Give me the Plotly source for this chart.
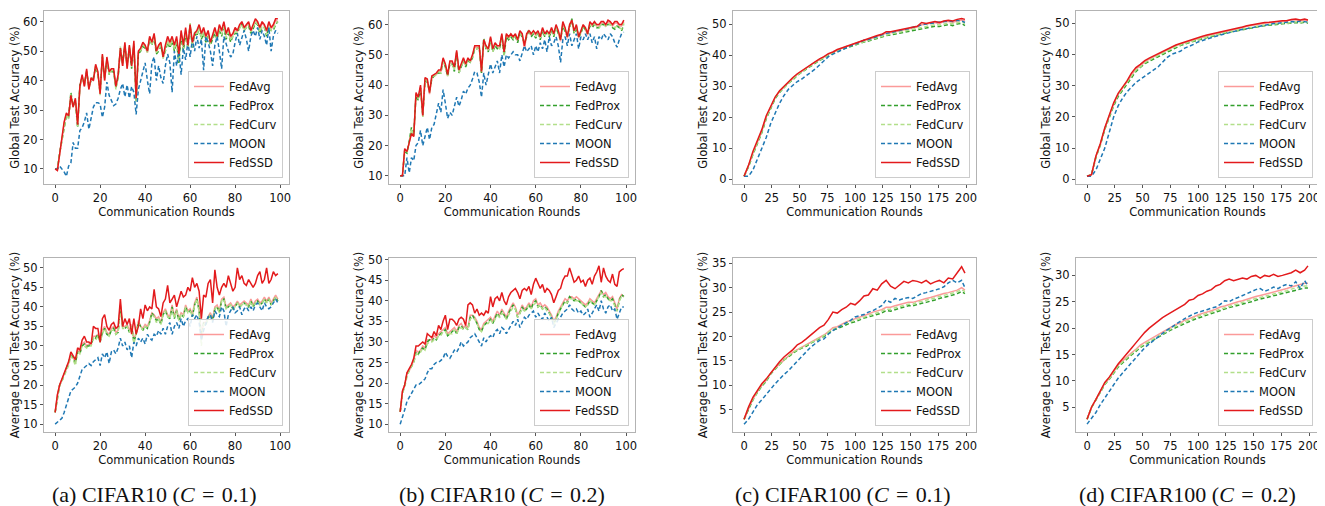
import plotly.graph_objects as go

# ---------------- data ----------------
rounds_c10 = list(range(100))
rounds_c100 = list(range(0, 197, 4)) + [199]
methods = ["FedAvg", "FedProx", "FedCurv", "MOON", "FedSSD"]

# (a) CIFAR10 C=0.1, global
a_g_avg = [10, 9.5, 15, 20, 25.5, 28.5, 28, 34.5, 31, 33.5, 25, 37.5, 41.5, 38, 43.5, 37, 40.5, 40, 45, 42.5,
           35.5, 48.5, 40, 47.5, 42.5, 43.5, 43.5, 38, 41.5, 50.5, 45, 52.5, 44, 51.5, 45, 52.5, 34, 49.5, 50.5, 52.5,
           51.5, 49.5, 54.5, 52.5, 55.5, 49.5, 51.5, 52.5, 47.5, 51.5, 54, 52.5, 54.5, 51, 54, 48, 56, 51, 57, 51.5,
           58.5, 52.5, 55.5, 56.5, 58.5, 55.5, 57.5, 54.5, 56.5, 52.5, 55.5, 57.5, 54.5, 58.5, 56.5, 59.5, 55.5, 57.5, 54.5, 55.5,
           57.5, 56.5, 58.5, 59.5, 57.5, 58.5, 59.5, 56.5, 58.5, 60.5, 59.5, 57.5, 59.5, 58.5, 56.5, 59.5, 57.5, 58.5, 60.5, 60]
a_g_prox = [10, 10, 15.5, 20, 25, 28, 27.5, 36, 31.5, 33, 24, 38.5, 41, 39, 43, 38, 40, 41, 44.5, 42,
            36, 48, 41, 47, 42, 43, 43, 37.5, 41, 51, 46, 52, 45, 51, 44, 52, 33, 49, 50, 51.5,
            51, 50, 54, 52, 55, 49, 50, 52, 48, 50, 53, 51, 53.5, 50, 53, 46, 55, 50, 56, 51,
            59, 51, 56, 55, 58, 54, 56, 53, 55, 52, 54, 56, 54, 57, 55, 58, 54, 56, 53, 55,
            56, 56, 58, 59, 57, 58, 58.5, 56, 57.5, 59.5, 59, 56, 58, 58, 55, 58, 57, 57, 59, 60]
a_g_curv = [10, 10, 15, 19.5, 25, 28.5, 27, 35.5, 31, 33, 24.5, 38, 41, 38.5, 43, 37.5, 40.5, 40.5, 45, 42.5,
            35, 48.5, 40.5, 47.5, 42, 43.5, 43, 37, 41.5, 51.5, 45.5, 52, 44.5, 51.5, 44.5, 52.5, 33, 49.5, 50, 52,
            51.5, 49.5, 54.5, 52, 55.5, 49.5, 50.5, 52.5, 47.5, 50.5, 53.5, 51.5, 54, 50.5, 53.5, 47, 55.5, 50.5, 56.5, 51,
            59.5, 51.5, 56.5, 55.5, 58, 54.5, 56.5, 53.5, 55.5, 52.5, 54.5, 56.5, 54, 57.5, 55.5, 58.5, 54.5, 56.5, 53.5, 55,
            56.5, 56.5, 58, 59, 57, 58, 59, 56.5, 58, 60, 59, 56.5, 58.5, 58, 55.5, 58.5, 57, 57.5, 59.5, 60]
a_g_moon = [10, 10, 11, 10, 9, 7.5, 11, 12, 19, 17, 17, 23, 24, 26, 29, 23.5, 28, 31, 32.5, 32.5,
            32, 27.5, 31, 39.5, 35, 33, 31.5, 32, 34, 37, 39, 34.5, 38.5, 34, 38, 36, 28.5, 37, 40, 44,
            46, 40, 35.5, 46, 48, 40, 45, 41, 39, 45, 49, 46, 36, 50, 45, 50, 42, 51, 47, 53,
            48, 54, 50, 55, 51, 54, 43.5, 55, 53, 50, 45, 52, 55, 50, 44, 55, 52, 50, 48, 49,
            53, 56, 52, 55, 57, 54, 50, 55, 57, 55, 58, 54, 57, 55, 52, 58, 50, 55, 57, 56]
a_g_ssd = [10, 9.5, 15, 20, 26, 29, 28, 35, 31, 34, 25, 38, 42, 38, 44, 37, 41, 40, 45.5, 43,
           35.5, 49, 40, 48, 43, 44, 44, 38, 42, 51, 45, 53, 44, 52, 45, 53.5, 34, 50, 51, 53,
           52, 50, 55, 53, 56, 50, 52, 53, 48, 52, 55, 53, 55, 52, 55, 49, 57, 52, 58, 52,
           59, 53, 56, 57, 59, 56, 58, 55, 57, 53, 56, 58, 55, 59, 57, 60, 56, 58, 55, 56,
           58, 57, 59, 60, 58, 59, 60, 57, 59, 61, 60, 58, 60, 59, 57, 60, 58, 59, 61, 61]

# (b) CIFAR10 C=0.2, global
b_g_avg = [10, 10, 18.5, 18, 21, 24.5, 23, 37, 35.5, 39.5, 29.5, 42, 41.5, 37, 42.5, 43, 43.5, 44.5, 44.5, 48.5,
           46.5, 43, 47.5, 47.5, 45.5, 51, 44.5, 46.5, 48.5, 46.5, 48.5, 47.5, 49.5, 52.5, 52.5, 52.5, 44, 54.5, 52.5, 51.5,
           55.5, 51.5, 53.5, 52.5, 52.5, 56.5, 50.5, 56.5, 55.5, 56.5, 55.5, 56.5, 54.5, 57.5, 56.5, 52, 56.5, 57.5, 56.5, 57.5,
           56.5, 57.5, 55.5, 58.5, 56.5, 57.5, 56.5, 58.5, 56.5, 59.5, 57.5, 54.5, 60.5, 58.5, 55.5, 59.5, 61, 57.5, 59.5, 55.5,
           57.5, 59.5, 58.5, 56.5, 60.5, 59.5, 60.5, 59.5, 59.5, 60.5, 60.5, 59.5, 61, 60.5, 59.5, 60.5, 60.5, 59.5, 59.5, 61]
b_g_prox = [10, 10, 18, 17.5, 21.5, 26, 23.5, 36.5, 35, 39, 30, 41.5, 41, 38, 42, 43, 43.5, 44, 44, 48,
            46, 43, 47, 47, 44.5, 50.5, 44, 46, 48, 46, 48, 47.5, 49, 52, 52, 52.5, 44, 55.5, 52, 51,
            55, 51, 53, 52, 52, 56, 49.5, 56, 55, 56, 55, 56, 54, 57.5, 56, 54, 56, 58.5, 56, 57,
            55.5, 57, 55, 58, 56, 57.5, 56, 58, 56, 59, 57, 55, 59.5, 58, 56, 59, 62, 57, 59, 56,
            57, 59.5, 58, 57, 59.5, 59, 60, 59, 59, 60, 60, 59.5, 60, 60, 59, 58.5, 59.5, 59, 58, 60]
b_g_curv = [10, 10, 18.5, 17.5, 21, 25.5, 23, 37, 35.5, 39, 29.5, 42, 41, 37.5, 42.5, 43, 43.5, 44.5, 44, 48.5,
            46, 43, 47.5, 47, 45, 51, 44, 46.5, 48, 46.5, 48.5, 47.5, 49.5, 52.5, 52, 52.5, 44.5, 55, 52.5, 51.5,
            55.5, 51, 53.5, 52.5, 52, 56.5, 50, 56.5, 55.5, 56.5, 55.5, 56.5, 54.5, 57, 56.5, 53.5, 56.5, 58, 56.5, 57.5,
            56, 57.5, 55.5, 58.5, 56.5, 57.5, 56.5, 58.5, 56.5, 59.5, 57.5, 55, 60, 58.5, 56, 59.5, 61.5, 57.5, 59.5, 56,
            57.5, 59.5, 58.5, 57, 60, 59.5, 60, 59.5, 59, 60, 60, 59.5, 60.5, 60, 59.5, 59, 59.5, 59, 58.5, 60.5]
b_g_moon = [10, 10, 10, 16, 11, 16, 15, 20, 21, 25, 20, 23, 26, 22, 26, 27, 30, 34, 31, 38.5,
            34, 29, 31, 30, 33, 36, 33, 35, 38, 37, 39, 40, 42, 44.5, 44, 41, 36, 44, 40, 44,
            47, 44, 46, 48, 44, 50, 46, 50, 49, 50, 51, 50, 50, 48, 51, 53, 51, 52, 53, 50,
            53, 51, 54, 52, 55, 51, 56, 53, 54, 56, 53, 47.5, 55, 56, 53, 57, 53, 55, 57, 52,
            56, 55, 57, 55, 57, 54, 56, 52, 56, 55, 57, 56, 55, 57, 56, 54, 52.5, 55, 57, 57.5]
b_g_ssd = [10, 10, 19, 18, 21, 24, 23, 37.5, 36, 40, 30, 42.5, 42, 37.5, 43, 43.5, 44, 45, 45, 49,
           47, 43.5, 48, 48, 46, 51.5, 45, 47, 49, 47, 49, 48, 50, 53, 53, 53, 44.5, 55, 53, 52,
           56, 52, 54, 53, 53, 57, 51, 57, 56, 57, 56, 57, 55, 58, 57, 53, 57, 58, 57, 58,
           57, 58, 56, 59, 57, 58, 57, 59, 57, 60, 58, 55, 61, 59, 56, 60, 61.5, 58, 60, 56,
           58, 60, 59, 57, 61, 60, 61, 60, 60, 61, 61, 60, 61.5, 61, 60, 61, 61, 60, 60, 61.5]

# (c) CIFAR100 C=0.1, global
c_g_avg = [1, 4.3, 8.5, 12, 15.5, 20, 23.3, 26.3, 28.3, 29.8, 31.3, 32.5, 33.8, 34.8, 36, 36.8, 37.8, 38.5, 39.3, 40.3,
           40.8, 41.5, 42, 42.8, 43.2, 43.8, 44.3, 44.8, 45, 45.5, 46, 46.5, 47, 47.2, 47.5, 47.8, 48.2, 48.5, 48.8, 49,
           49.8, 50, 50.2, 50.5, 50.2, 50.8, 50.8, 50.6, 51, 51.3, 51]
c_g_prox = [1, 4, 8, 11.5, 15, 19.5, 23, 26, 28, 29.5, 31, 32, 33.5, 34.5, 35.5, 36.5, 37.5, 38.3, 39, 40,
            40.5, 41.2, 41.8, 42.3, 42.8, 43.3, 43.8, 44.2, 44.5, 45, 45.3, 45.8, 46.3, 46.5, 46.8, 47, 47.3, 47.5, 48, 48.2,
            48.5, 48.8, 49, 49.3, 49.2, 49.5, 49.8, 49.5, 50, 50.2, 49.5]
c_g_curv = [1, 4.2, 8.3, 11.8, 15.3, 19.8, 23, 26.2, 28.2, 29.6, 31.2, 32.3, 33.6, 34.6, 35.8, 36.6, 37.6, 38.4, 39.2, 40.1,
            40.6, 41.3, 41.9, 42.5, 43, 43.5, 44, 44.5, 44.8, 45.2, 45.6, 46, 46.6, 46.8, 47.1, 47.4, 47.7, 48, 48.3, 48.6,
            49, 49.3, 49.5, 49.8, 49.7, 50, 50.3, 50.1, 50.5, 50.7, 50.2]
c_g_moon = [1, 1, 3, 6.5, 10, 13.5, 18, 21.5, 24.5, 27, 29, 30.3, 31.5, 32.3, 33.3, 34.3, 35.5, 36.8, 38.3, 39.5,
            40.3, 41, 41.8, 42.5, 43, 43.5, 44.2, 44.8, 45, 45.5, 46, 46.5, 47, 47.2, 47.6, 48, 48.3, 48.5, 49, 49.2,
            49.8, 50, 50.2, 50.5, 50.5, 50.8, 51, 50.8, 51.2, 51, 50.5]
c_g_ssd = [1, 4.5, 9, 12.5, 16, 20.5, 23.5, 26.5, 28.5, 30, 31.5, 32.8, 34, 35, 36, 37, 38, 38.8, 39.5, 40.5,
           41, 41.8, 42.3, 42.8, 43.5, 44, 44.5, 45, 45.3, 45.8, 46.3, 46.7, 47.5, 47.5, 47.8, 48, 48.5, 48.8, 49, 49.3,
           50.5, 50.2, 50.5, 50.8, 50.5, 51, 51.2, 51, 51.5, 51.8, 51.5]

# (d) CIFAR100 C=0.2, global
d_g_avg = [1, 1.5, 7.3, 11.3, 16.3, 20.2, 24.2, 27.2, 29.2, 31.2, 33.6, 35.3, 36.3, 37.6, 38.5, 39.2, 40, 40.8, 41.5, 42,
           42.8, 43.3, 43.8, 44.3, 44.7, 45, 45.5, 46, 46.3, 46.6, 47, 47.3, 47.6, 47.9, 48.3, 48.6, 49, 49.3, 49.5, 49.8,
           50, 50.1, 50.3, 50.4, 50.6, 50.7, 51, 51, 50.8, 51, 50.8]
d_g_prox = [1, 1.5, 7, 11, 16, 19.8, 23.5, 26.5, 28.5, 30.5, 32.8, 34.5, 35.8, 37, 37.8, 38.5, 39.3, 40, 40.8, 41.5,
            42.2, 42.8, 43.3, 43.8, 44.2, 44.6, 45, 45.4, 45.8, 46.1, 46.5, 46.8, 47.1, 47.4, 47.7, 48, 48.3, 48.6, 48.8, 49,
            49.2, 49.4, 49.5, 49.6, 49.8, 49.9, 50, 50.2, 50, 50.3, 50]
d_g_curv = [1, 1.5, 7.2, 11.2, 16.2, 20, 24, 27, 29, 31, 33.2, 35, 36, 37.3, 38.2, 38.9, 39.7, 40.4, 41.2, 41.8,
            42.5, 43, 43.5, 44, 44.4, 44.8, 45.2, 45.6, 46, 46.3, 46.7, 47, 47.3, 47.6, 47.9, 48.2, 48.5, 48.8, 49, 49.2,
            49.4, 49.6, 49.7, 49.8, 50, 50, 50.2, 50.4, 50.2, 50.5, 50.2]
d_g_moon = [1, 1, 3, 6.5, 10, 15, 20, 23.5, 26, 28, 29.5, 31, 32, 33, 34, 35, 36, 37.5, 39, 40,
            40.5, 41, 42, 42.5, 43.2, 44, 44.5, 45, 45.4, 45.8, 46.2, 46.5, 47, 47.3, 47.7, 48, 48.3, 48.6, 48.9, 49.2,
            49.5, 49.7, 49.9, 50, 50.2, 50.3, 50.5, 50.4, 50.7, 50.5, 50.3]
d_g_ssd = [1, 1.5, 7.5, 11.5, 16.5, 20.5, 24.5, 27.5, 29.5, 31.5, 34, 35.8, 36.8, 38, 38.8, 39.5, 40.3, 41, 41.8, 42.3,
           43, 43.5, 44, 44.5, 45, 45.3, 45.8, 46.2, 46.5, 46.8, 47.2, 47.5, 47.8, 48, 48.5, 48.8, 49.2, 49.5, 49.8, 50,
           50.2, 50.3, 50.5, 50.5, 50.8, 50.8, 51.2, 51.3, 51, 51.3, 51]

# (a) CIFAR10 C=0.1, local
a_l_avg = [13, 17.5, 20, 21.5, 23, 24, 25.5, 28, 27, 26, 29, 28.5, 30.5, 31, 30, 30.5, 30.5, 32.5, 32.5, 33,
           31, 34, 35, 33.5, 33, 34.5, 35, 33.5, 34, 40.5, 35, 35, 35.5, 34, 35.5, 31.5, 33.5, 36.5, 35, 34.5,
           35.5, 35, 36.5, 38.5, 38, 37, 37.5, 36, 38.5, 39.5, 38, 37.5, 40.5, 37.5, 39.5, 37, 38.5, 38, 40.5, 39,
           39.5, 38, 41, 42.5, 39.5, 32.5, 36, 36, 37.5, 38.5, 37, 40, 40.5, 39, 42, 42.5, 40, 40.5, 41, 40,
           40.5, 41.5, 40.5, 41, 41.5, 41, 40.5, 42, 40.5, 41.5, 42, 41, 41.5, 42.5, 41.5, 42.5, 41, 42, 43, 42]
a_l_prox = [13, 17, 20, 21, 22.5, 24, 25.5, 27.5, 27, 25.5, 28.5, 28, 30, 30.5, 30, 30, 30.5, 32, 32, 33,
            31, 33.5, 34.5, 33, 32.5, 34, 34.5, 33, 33.5, 40, 35, 34.5, 35, 33.5, 35, 31, 33, 36, 35, 34,
            35, 34.5, 36, 38.5, 37.5, 36.5, 37, 35.5, 38, 39, 37.5, 37, 40, 37, 39, 36.5, 38, 37.5, 40, 38.5,
            39, 37.5, 40.5, 42, 39, 32, 36, 35.5, 37, 38, 36.5, 39.5, 40, 38.5, 41.5, 42, 39.5, 40, 40.5, 39.5,
            40, 41, 40, 40.5, 41, 40.5, 40, 41.5, 40, 41, 41.5, 40.5, 41, 42, 41, 42, 40.5, 41.5, 42.5, 41.5]
a_l_curv = [13, 17, 20, 21, 22.5, 23.5, 25, 27.5, 26.5, 25, 28.5, 28, 30, 30, 29.5, 30, 30, 32, 31.5, 32.5,
            31, 33, 34.5, 33, 32.5, 34, 34, 33, 33.5, 39.5, 34.5, 34.5, 35, 33.5, 35, 30.5, 33, 36, 35, 34,
            35, 34.5, 36, 38, 37.5, 36, 37, 35.5, 38, 39, 37.5, 37, 39.5, 37, 39, 36.5, 38, 37.5, 40, 38.5,
            39, 37.5, 40.5, 42, 39, 30, 35.5, 35.5, 37, 38, 36.5, 39.5, 40, 38.5, 41.5, 42, 39.5, 40, 40.5, 39.5,
            40, 41, 40, 40.5, 41, 40.5, 40, 41.5, 40, 41, 41.5, 40.5, 41, 42, 41, 42, 40.5, 41.5, 42.5, 41.5]
a_l_moon = [10, 10.5, 11, 11.5, 13, 15, 17, 18.5, 19, 19.5, 20.5, 22, 24, 24.5, 25, 25.5, 25, 26, 26.5, 27,
            25, 28, 27, 28.5, 25.5, 28.5, 29, 28, 29.5, 32, 30, 31, 29, 30, 27, 31, 30, 32, 31, 32,
            30.5, 33, 32, 31.5, 33, 32.5, 34, 33, 34.5, 33, 35, 36, 33, 35, 36, 34.5, 37, 35, 36.5, 37,
            35, 38, 37, 38, 36, 31.5, 34, 36, 37.5, 38, 36, 39, 38, 37.5, 40, 39, 35, 38, 39, 40,
            38.5, 39, 40, 38, 39.5, 40, 39, 40, 39, 40.5, 41, 40, 39, 41, 40, 39.5, 40, 41, 42, 41]
a_l_ssd = [13, 17.5, 20, 21.5, 23, 24, 26, 28.5, 27.5, 26.5, 29.5, 29, 31.5, 32.5, 31, 31, 30.5, 35, 34.5, 34.5,
           31, 37, 38, 35, 34, 35.5, 36, 34.5, 35, 42, 35, 37, 35.5, 37, 33, 37, 33, 35, 39.5, 37,
           40.5, 39, 40, 39.5, 44.5, 40, 39.5, 37.5, 41, 42, 45.5, 41, 42, 43, 40, 42, 44, 42.5, 43, 45,
           44, 47.5, 45, 46, 44, 37, 43, 42.5, 46, 47, 41, 49.5, 45, 43, 45, 46, 45, 48, 46, 44,
           45, 50, 47, 48, 46, 45.5, 47, 46, 45, 46, 48, 49, 46, 47, 50, 46, 47, 49, 48, 48.5]

# (b) CIFAR10 C=0.2, local
b_l_avg = [13, 18, 19.5, 22.5, 23, 24.5, 25.5, 28, 27.5, 28, 29, 28.5, 30.5, 30.5, 30.5, 31.5, 31, 32, 32.5, 33,
           33.5, 32, 32.5, 33, 33.5, 32.5, 34, 34.5, 33.5, 34, 33.5, 36.5, 36.5, 36, 35, 33.5, 33, 34.5, 35, 35.5,
           36, 35, 36.5, 37.5, 36.5, 38, 37, 36, 37.5, 38.5, 39.5, 38.5, 36.5, 37.5, 39, 38, 38.5, 39.5, 38.5, 40,
           40.5, 39, 39.5, 38.5, 39, 38.5, 37.5, 36.5, 35, 36, 37.5, 38.5, 39.5, 40.5, 40, 41, 41, 40.5, 41, 40.5,
           40, 39.5, 39, 39.5, 40.5, 40, 39.5, 40.5, 41.5, 42.5, 41.5, 42, 41, 40.5, 41, 39.5, 38, 40.5, 41.5, 41]
b_l_prox = [13, 17.5, 19.5, 22, 23, 24, 25, 27.5, 27, 28, 28.5, 28, 30, 30.5, 30, 31, 30.5, 31.5, 32, 32.5,
            33, 31.5, 32, 32.5, 33, 32, 33.5, 34, 33, 33.5, 33, 36, 36.5, 35.5, 34.5, 33, 32.5, 34, 34.5, 35,
            35.5, 34.5, 36, 37, 36, 37.5, 36.5, 35.5, 37, 38, 39, 38, 36, 37, 38.5, 37.5, 38, 39, 38, 39.5,
            40, 38.5, 39, 38, 38.5, 38, 37, 36, 34.5, 35.5, 37, 38, 39, 40, 39.5, 41, 40.5, 40, 40.5, 40,
            39.5, 39, 38.5, 39, 40, 39.5, 39, 40, 41, 42.5, 41, 41.5, 40.5, 40, 40.5, 39, 37.5, 40, 41.5, 41]
b_l_curv = [13, 17.5, 19, 21.5, 23, 24, 25, 27, 27, 27.5, 28.5, 28, 29.5, 30, 30, 30.5, 30.5, 31.5, 31.5, 32.5,
            32.5, 31.5, 32, 32, 33, 32, 33, 33.5, 33, 33.5, 33, 35.5, 36, 35.5, 34.5, 33, 32.5, 34, 34.5, 34.5,
            35.5, 34.5, 35.5, 36.5, 36, 37, 36.5, 35.5, 36.5, 37.5, 38.5, 38, 36, 37, 38, 37.5, 38, 39, 38, 39,
            39.5, 38.5, 39, 38, 38.5, 37.5, 37, 36, 34, 35.5, 37, 38, 39, 39.5, 39.5, 40.5, 40.5, 40, 40, 40,
            39.5, 39, 38.5, 39, 40, 39.5, 39, 40, 41, 42, 41, 41, 40.5, 40, 40, 38.5, 37.5, 40, 41, 41]
b_l_moon = [10, 11.5, 13.5, 15.5, 16.5, 17.5, 18.5, 19.5, 19.5, 20, 20.5, 21, 22.5, 23.5, 23.5, 24.5, 25, 25, 25.5, 26,
            27.5, 26.5, 26, 27, 28, 27.5, 28.5, 30, 29, 29.5, 30, 31, 31.5, 32, 31, 30, 29, 31, 30, 31,
            31.5, 31, 32.5, 33, 32, 33.5, 33, 32, 33, 34, 35, 34, 35.5, 33.5, 35, 36, 35.5, 36.5, 37, 37.5,
            36, 37, 36, 35.5, 37, 36, 35, 36, 33.5, 34.5, 35.5, 36, 37, 37.5, 38, 39, 38, 37.5, 38, 37,
            37.5, 36.5, 37, 38, 36, 37, 38, 39, 37.5, 40, 38, 37, 38.5, 39, 37.5, 38, 35.5, 37, 38.5, 38.5]
b_l_ssd = [13, 18, 19.5, 22.5, 23.5, 24.5, 26, 29, 29, 29.5, 30, 29.5, 32, 31.5, 31, 32.5, 31.5, 34, 33, 35,
           36.5, 33, 35.5, 35.5, 35, 34, 35.5, 36, 35.5, 34, 39, 39.5, 39, 37, 38, 36.5, 37, 36.5, 37.5, 37,
           41, 38.5, 40.5, 41, 40, 42, 40, 39, 41, 42, 42.5, 43, 42, 40.5, 42.5, 43, 42.5, 43.5, 41.5, 44,
           45.5, 44, 43, 44, 42, 43, 42.5, 41.5, 39.5, 41, 42.5, 43, 45, 46, 46, 48, 46, 44.5, 45, 46,
           44.5, 45, 43.5, 45, 45.5, 44, 46, 47, 48.5, 44.5, 48, 46, 45, 44.5, 46.5, 44, 43.5, 47, 47.5, 47.8]

# (c) CIFAR100 C=0.1, local
c_l_avg = [3, 5.3, 7.2, 8.7, 10, 11, 12.5, 13.5, 14.3, 15.3, 16, 16.8, 17.3, 17.8, 18.3, 18.8, 19.3, 19.8, 20.3, 21,
           21.8, 22, 22.5, 23, 23.3, 23.6, 24, 24.3, 24.6, 25, 25.2, 25.5, 26, 26, 26.3, 26.5, 26.8, 27, 27, 27.3,
           27.5, 27.8, 28, 28.3, 28.5, 28.8, 29, 29.3, 29.5, 30, 29.5]
c_l_prox = [3, 5.2, 7, 8.5, 9.8, 10.8, 12.3, 13.3, 14.2, 15.2, 15.8, 16.6, 17.2, 17.6, 18, 18.6, 19.1, 19.5, 20, 20.7,
            21.3, 21.6, 22, 22.5, 22.8, 23, 23.4, 23.8, 24, 24.3, 24.5, 24.8, 25.3, 25.2, 25.5, 25.8, 26, 26.3, 26.3, 26.6,
            26.8, 27, 27.2, 27.5, 27.8, 28, 28.2, 28.5, 28.8, 29.2, 28.8]
c_l_curv = [3, 5.3, 7.1, 8.6, 10, 11, 12.4, 13.4, 14.3, 15.3, 16, 16.7, 17.3, 17.7, 18.2, 18.7, 19.2, 19.7, 20.2, 20.9,
            21.5, 21.8, 22.3, 22.8, 23, 23.3, 23.7, 24, 24.3, 24.6, 24.8, 25.2, 25.6, 25.6, 25.9, 26.1, 26.4, 26.6, 26.6, 27,
            27.2, 27.4, 27.6, 27.9, 28.2, 28.4, 28.6, 28.9, 29.2, 29.6, 29.2]
c_l_moon = [2, 3, 4.5, 6, 7, 8, 9.2, 10.3, 11.3, 12.2, 13, 14, 15, 15.8, 16.8, 17.8, 18.5, 19.2, 19.5, 20.5,
            21.2, 21.8, 22.3, 22.8, 23.3, 24, 24.3, 24.5, 25, 25.3, 25.8, 26.3, 27.5, 27, 27.8, 27.5, 27.8, 28, 27.8, 28.3,
            28.8, 29, 29.2, 29.5, 29.8, 30.2, 31, 31.5, 31, 31.5, 30]
c_l_ssd = [3, 5.5, 7.5, 9, 10.3, 11.3, 12.5, 13.8, 14.8, 15.8, 16.5, 17.3, 18.3, 18.8, 19.5, 20.3, 21, 21.8, 22.3, 23.5,
           25, 24.8, 25.5, 26, 26.8, 26.5, 27.3, 28.3, 28.5, 29.8, 29.5, 30.8, 31.5, 30.3, 29.8, 30.5, 31.3, 31, 31.5, 31.3,
           31, 31.5, 30.8, 31.2, 31.5, 31, 32, 31.8, 33, 34.3, 33]

# (d) CIFAR100 C=0.2, local
d_l_avg = [2.7, 5, 6.5, 8, 9.5, 10.5, 11.8, 13, 13.8, 14.6, 15.3, 16, 16.8, 17.3, 17.8, 18.3, 18.8, 19.3, 19.8, 20.3,
           20.7, 21, 21.5, 21.8, 22.2, 22.5, 22.8, 23, 23.3, 23.6, 24, 24.2, 24.5, 24.8, 25, 25.2, 25.5, 25.8, 26, 26.2,
           26.4, 26.6, 26.8, 27, 27.2, 27.5, 27.8, 28, 28.2, 28.5, 28.5]
d_l_prox = [2.7, 4.9, 6.4, 7.8, 9.3, 10.3, 11.5, 12.6, 13.4, 14.2, 14.9, 15.6, 16.3, 16.8, 17.3, 17.8, 18.3, 18.8, 19.2, 19.7,
            20.1, 20.5, 20.9, 21.2, 21.6, 21.9, 22.2, 22.5, 22.8, 23, 23.3, 23.6, 23.9, 24.1, 24.3, 24.6, 24.8, 25, 25.3, 25.5,
            25.7, 25.9, 26.1, 26.3, 26.5, 26.8, 27, 27.2, 27.4, 27.6, 27.6]
d_l_curv = [2.7, 5, 6.4, 7.9, 9.4, 10.4, 11.6, 12.8, 13.6, 14.4, 15.1, 15.8, 16.5, 17, 17.5, 18, 18.5, 19, 19.5, 20,
            20.4, 20.7, 21.2, 21.5, 21.9, 22.2, 22.5, 22.7, 23, 23.3, 23.6, 23.9, 24.2, 24.4, 24.6, 24.9, 25.1, 25.4, 25.6, 25.8,
            26, 26.2, 26.4, 26.6, 26.8, 27.1, 27.4, 27.6, 27.8, 28, 28]
d_l_moon = [1.8, 2.8, 4, 5.5, 6.8, 8, 9.3, 10.5, 11.5, 12.5, 13.5, 14.5, 15.5, 16.3, 17, 17.7, 18.3, 19, 19.6, 20.2,
            20.8, 21.3, 21.8, 22.3, 22.7, 23, 23.2, 23.5, 23.8, 24, 24.5, 25.2, 25, 25.5, 25.8, 26.2, 26.5, 27, 27.3, 27.5,
            27, 27.3, 27.8, 27.5, 28, 28.3, 28, 28.8, 27.5, 29, 28]
d_l_ssd = [2.7, 5, 6.5, 8, 9.7, 10.7, 12, 13.2, 14.2, 15.3, 16.2, 17.2, 18.3, 19.2, 20, 20.7, 21.3, 22, 22.5, 23,
           23.5, 24, 24.5, 25.3, 25.5, 26.2, 26.5, 27, 27.3, 28, 28.3, 29, 29.3, 29, 29.3, 29.5, 29.3, 29.8, 30, 29.5,
           30, 29.8, 30.2, 29.8, 30, 30.3, 30.5, 31, 30.5, 31, 31.8]

captions = ["(a) CIFAR10 (<i>C</i>\u2004=\u20040.1)", "(b) CIFAR10 (<i>C</i>\u2004=\u20040.2)",
            "(c) CIFAR100 (<i>C</i>\u2004=\u20040.1)", "(d) CIFAR100 (<i>C</i>\u2004=\u20040.2)"]
ytitle_top = "Global Test Accuracy (%)"
ytitle_bot = "Average Local Test Accuracy (%)"
xtitle = "Communication Rounds"

# ---------------- layout / style ----------------
W, H = 1325, 506
col_px = [(36, 281), (381, 627), (725, 968), (1068, 1311)]
row_px = [(3, 176), (250, 424)]
cap_x = [146, 494, 835, 1179]
cap_y = 486

styles = {
    "FedAvg": dict(color="#fb9a99", dash="solid"),
    "FedProx": dict(color="#33a02c", dash="4px,2.5px"),
    "FedCurv": dict(color="#b2df8a", dash="4px,2.5px"),
    "MOON": dict(color="#1f78b4", dash="4px,2.5px"),
    "FedSSD": dict(color="#e31a1c", dash="solid"),
}

panels = [
    (0, 0, rounds_c10, [a_g_avg, a_g_prox, a_g_curv, a_g_moon, a_g_ssd], [-4.95, 103.95], [4.9, 63.6], list(range(0, 101, 20)), list(range(10, 61, 10)), ytitle_top),
    (0, 1, rounds_c10, [b_g_avg, b_g_prox, b_g_curv, b_g_moon, b_g_ssd], [-4.95, 103.95], [7.3, 64.5], list(range(0, 101, 20)), list(range(10, 61, 10)), ytitle_top),
    (0, 2, rounds_c100, [c_g_avg, c_g_prox, c_g_curv, c_g_moon, c_g_ssd], [-9.95, 208.95], [-1.5, 54.2], list(range(0, 201, 25)), list(range(0, 51, 10)), ytitle_top),
    (0, 3, rounds_c100, [d_g_avg, d_g_prox, d_g_curv, d_g_moon, d_g_ssd], [-9.95, 208.95], [-1.5, 53.9], list(range(0, 201, 25)), list(range(0, 51, 10)), ytitle_top),
    (1, 0, rounds_c10, [a_l_avg, a_l_prox, a_l_curv, a_l_moon, a_l_ssd], [-4.95, 103.95], [8.0, 52.5], list(range(0, 101, 20)), list(range(10, 51, 5)), ytitle_bot),
    (1, 1, rounds_c10, [b_l_avg, b_l_prox, b_l_curv, b_l_moon, b_l_ssd], [-4.95, 103.95], [8.1, 50.4], list(range(0, 101, 20)), list(range(10, 51, 5)), ytitle_bot),
    (1, 2, rounds_c100, [c_l_avg, c_l_prox, c_l_curv, c_l_moon, c_l_ssd], [-9.95, 208.95], [0.4, 36.1], list(range(0, 201, 25)), list(range(5, 36, 5)), ytitle_bot),
    (1, 3, rounds_c100, [d_l_avg, d_l_prox, d_l_curv, d_l_moon, d_l_ssd], [-9.95, 208.95], [0.3, 33.3], list(range(0, 201, 25)), list(range(5, 31, 5)), ytitle_bot),
]

FONT = "DejaVu Sans"
FS = 11.5
SPINE = "#b3b3b3"

fig = go.Figure()
layout = dict(width=W, height=H, margin=dict(l=0, r=0, t=0, b=0),
              plot_bgcolor="white", paper_bgcolor="white",
              font=dict(family=FONT, size=FS, color="#111"), showlegend=True)

for i, (row, col, rx, series, xr, yr, xt, yt, ytitle) in enumerate(panels):
    n = i + 1
    sfx = "" if n == 1 else str(n)
    lname = "legend" + sfx
    x0, x1 = col_px[col]
    y0, y1 = row_px[row]
    for m, ys in zip(methods, series):
        st = styles[m]
        fig.add_trace(go.Scatter(
            x=rx, y=ys, mode="lines", name=m,
            line=dict(color=st["color"], dash=st["dash"], width=1.5),
            xaxis="x" + sfx, yaxis="y" + sfx, legend=lname, showlegend=True))
    layout["xaxis" + sfx] = dict(
        domain=[x0 / W, x1 / W], anchor="y" + sfx, range=xr, tickvals=xt,
        showgrid=False, zeroline=False, showline=True, mirror=True,
        linecolor=SPINE, linewidth=1, ticks="outside", ticklen=3, tickcolor="#555",
        tickfont=dict(family=FONT, size=FS, color="#111"),
        title=dict(text=xtitle, font=dict(family=FONT, size=FS, color="#111"), standoff=1),
        automargin=False)
    layout["yaxis" + sfx] = dict(
        domain=[1 - y1 / H, 1 - y0 / H], anchor="x" + sfx, range=yr, tickvals=yt,
        showgrid=False, zeroline=False, showline=True, mirror=True,
        linecolor=SPINE, linewidth=1, ticks="outside", ticklen=3, tickcolor="#555",
        tickfont=dict(family=FONT, size=FS, color="#111"),
        title=dict(text=ytitle, font=dict(family=FONT, size=FS, color="#111"), standoff=2),
        automargin=False)
    layout[lname] = dict(
        x=(x1 - 6) / W, y=1 - (y1 - 6) / H, xanchor="right", yanchor="bottom",
        bgcolor="rgba(255,255,255,0.85)", bordercolor="#cccccc", borderwidth=1,
        font=dict(family=FONT, size=FS, color="#111"), itemwidth=30, tracegroupgap=0)

annotations = []
for cx, txt in zip(cap_x, captions):
    annotations.append(dict(text=txt, x=cx / W, y=1 - cap_y / H, xref="paper", yref="paper",
                            xanchor="center", yanchor="middle", showarrow=False,
                            font=dict(family="Liberation Serif", size=22, color="#111")))
layout["annotations"] = annotations
fig.update_layout(**layout)

fig.write_html("out.html")
